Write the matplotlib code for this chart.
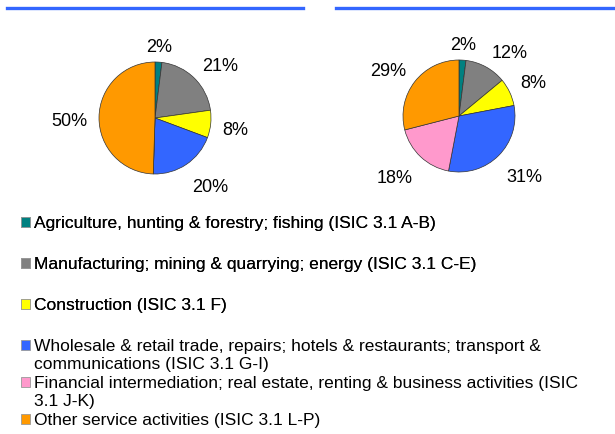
import numpy as np
import matplotlib
matplotlib.use("Agg")
import matplotlib.pyplot as plt
from matplotlib.lines import Line2D
from matplotlib.patches import Patch
from matplotlib.transforms import ScaledTranslation

plt.rcParams["font.family"] = ["Liberation Sans", "DejaVu Sans"]

# legend lines (wrapped entries keep the swatch on the first line only)
legend_lines = [
    ("Agriculture, hunting & forestry; fishing (ISIC 3.1 A-B)", 0),
    ("Manufacturing; mining & quarrying; energy (ISIC 3.1 C-E)", 1),
    ("Construction (ISIC 3.1 F)", 2),
    ("Wholesale & retail trade, repairs; hotels & restaurants; transport &", 3),
    ("communications (ISIC 3.1 G-I)", None),
    ("Financial intermediation; real estate, renting & business activities (ISIC", 4),
    ("3.1 J-K)", None),
    ("Other service activities (ISIC 3.1 L-P)", 5),
]
colors = ["#008080", "#808080", "#FFFF00", "#3366FF", "#FF99CC", "#FF9900"]

left_values = [2, 21, 8, 20, 0, 50]
right_values = [2, 12, 8, 31, 18, 29]

W, H = 615, 434
fig = plt.figure(figsize=(W / 100, H / 100), dpi=100)


def px_axes(cx, cy, size):
    return fig.add_axes([(cx - size / 2) / W, 1 - (cy + size / 2) / H, size / W, size / H])


def draw_pie(ax, values):
    vals = np.array(values, dtype=float)
    wedges, texts = ax.pie(
        vals, colors=colors, startangle=90, counterclock=False,
        labels=["%d%%" % v if v > 0 else "" for v in values],
        labeldistance=1.2,
        wedgeprops=dict(edgecolor="#333333", linewidth=0.5),
        textprops=dict(fontsize=13),
    )
    # outside-end style label alignment
    cum = np.cumsum(vals) - vals / 2
    shift = ScaledTranslation(0, -5 / 100, fig.dpi_scale_trans)
    for t, c in zip(texts, cum):
        ang = np.deg2rad(90 - 360 * c / vals.sum())
        ca, sa = np.cos(ang), np.sin(ang)
        t.set_ha("left" if ca > 0.3 else ("right" if ca < -0.3 else "center"))
        t.set_va("bottom" if sa > 0.3 else ("top" if sa < -0.3 else "center"))
        t.set_transform(t.get_transform() + shift)
    ax.set_xlim(-2, 2)
    ax.set_ylim(-2, 2)
    ax.set_aspect("equal")
    ax.axis("off")


R = 56
draw_pie(px_axes(155, 118, 4 * R), left_values)
draw_pie(px_axes(459, 116, 4 * R), right_values)

# title underlines
for x0, x1 in [(7, 303), (336, 613)]:
    fig.add_artist(Line2D([x0 / W, x1 / W], [1 - 7.5 / H, 1 - 7.5 / H],
                          color="#3366FF", linewidth=2.4, transform=fig.transFigure))


def handle(i):
    if i is None:
        return Patch(facecolor="none", edgecolor="none")
    return Patch(facecolor=colors[i], edgecolor="#999999", linewidth=0.6)


leg_kw = dict(frameon=False, fontsize=12.5, handlelength=0.5, handleheight=0.5,
              handletextpad=0.22, borderpad=0, borderaxespad=0, loc="upper left")
top = legend_lines[:3]
bottom = legend_lines[3:]
leg1 = fig.legend([handle(i) for _, i in top], [s for s, _ in top], labelspacing=1.5,
                  bbox_to_anchor=(21 / W, 1 - 216 / H), **leg_kw)
fig.add_artist(leg1)
fig.legend([handle(i) for _, i in bottom], [s for s, _ in bottom], labelspacing=0.2,
           bbox_to_anchor=(21 / W, 1 - 339 / H), **leg_kw)

fig.savefig("out.png", dpi=100)
